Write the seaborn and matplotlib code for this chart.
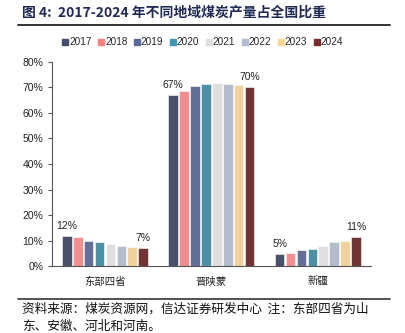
import numpy as np
import pandas as pd
import matplotlib
matplotlib.use("Agg")
import matplotlib.pyplot as plt
import seaborn as sns
from matplotlib.lines import Line2D

regions = ["东部四省", "晋陕蒙", "新疆"]
years = ["2017", "2018", "2019", "2020", "2021", "2022", "2023", "2024"]
east4 = [11.8, 11.2, 10.0, 9.4, 8.5, 7.7, 7.3, 7.0]
jsm = [66.9, 68.8, 70.6, 71.4, 71.7, 71.4, 71.0, 70.0]
xinjiang = [4.8, 5.1, 6.2, 6.7, 7.8, 9.5, 9.7, 11.3]
yticks = [0, 10, 20, 30, 40, 50, 60, 70, 80]
colors = ["#444D6E", "#FF7F7F", "#5B6A9E", "#3E97B5", "#DFDFDF", "#B0BCD0", "#FFD591", "#7A2A2A"]
title = "图 4:  2017-2024 年不同地域煤炭产量占全国比重"
source1 = "资料来源：煤炭资源网，信达证券研发中心  注：东部四省为山"
source2 = "东、安徽、河北和河南。"

sns.set_theme(style="white")
plt.rcParams["font.family"] = ["Liberation Sans", "Noto Sans CJK SC"]

rows = []
for r, vals in zip(regions, [east4, jsm, xinjiang]):
    for y, v in zip(years, vals):
        rows.append({"region": r, "year": y, "value": v})
df = pd.DataFrame(rows)

fig = plt.figure(figsize=(4.05, 3.33), dpi=100)
ax = fig.add_axes([0.128, 0.201, 0.788, 0.613])
sns.barplot(data=df, x="region", y="value", hue="year", palette=colors,
            width=0.82, gap=0.12, ax=ax, legend=False, edgecolor="white", linewidth=0.4)

ax.set_ylim(0, 80)
ax.set_xlim(-0.5, 2.5)
ax.set_yticks(yticks)
ax.set_yticklabels([f"{t}%" for t in yticks], fontsize=7.5, color="#222222")
ax.set_xticks(range(3))
ax.set_xticklabels(regions, fontsize=7.5, color="#222222")
ax.set_xticks([-0.5, 0.5, 1.5, 2.5], minor=True)
ax.tick_params(axis="x", which="major", length=0, pad=8)
ax.tick_params(axis="x", which="minor", length=3, color="#555555", width=0.8)
ax.tick_params(axis="y", length=3, color="#555555", width=0.8, left=True, pad=3)
ax.set_xlabel("")
ax.set_ylabel("")
for s in ["top", "right"]:
    ax.spines[s].set_visible(False)
for s in ["left", "bottom"]:
    ax.spines[s].set_color("#555555")
    ax.spines[s].set_linewidth(0.8)

# labels for first and last years
for ci in [0, len(years) - 1]:
    cont = ax.containers[ci]
    for p in cont.patches:
        h = p.get_height()
        ax.text(p.get_x() + p.get_width() / 2, h + 2.0, f"{h:.0f}%",
                ha="center", va="bottom", fontsize=7.5, color="#222222")

handles = [Line2D([0], [0], marker="s", linestyle="", markersize=4,
                  markerfacecolor=c, markeredgecolor=c) for c in colors]
fig.legend(handles, years, loc="center", bbox_to_anchor=(0.5, 0.873), ncol=8,
           frameon=False, fontsize=7.2, handletextpad=0.05, columnspacing=0.6,
           handlelength=0.7)

fig.text(0.054, 0.961, title, fontsize=10, fontweight="bold", color="#1F2A55",
         va="center", ha="left", family=["Noto Sans CJK SC"])
fig.add_artist(Line2D([0.045, 0.963], [0.925, 0.925], color="#333333", linewidth=1.4))
fig.add_artist(Line2D([0.045, 0.963], [0.103, 0.103], color="#333333", linewidth=1.2))
fig.text(0.055, 0.072, source1, fontsize=9.1, color="#111111", va="center", ha="left",
         style="italic", family=["Noto Sans CJK SC"])
fig.text(0.055, 0.020, source2, fontsize=9.1, color="#111111", va="center", ha="left",
         style="italic", family=["Noto Sans CJK SC"])

fig.savefig("out.png", dpi=100)
